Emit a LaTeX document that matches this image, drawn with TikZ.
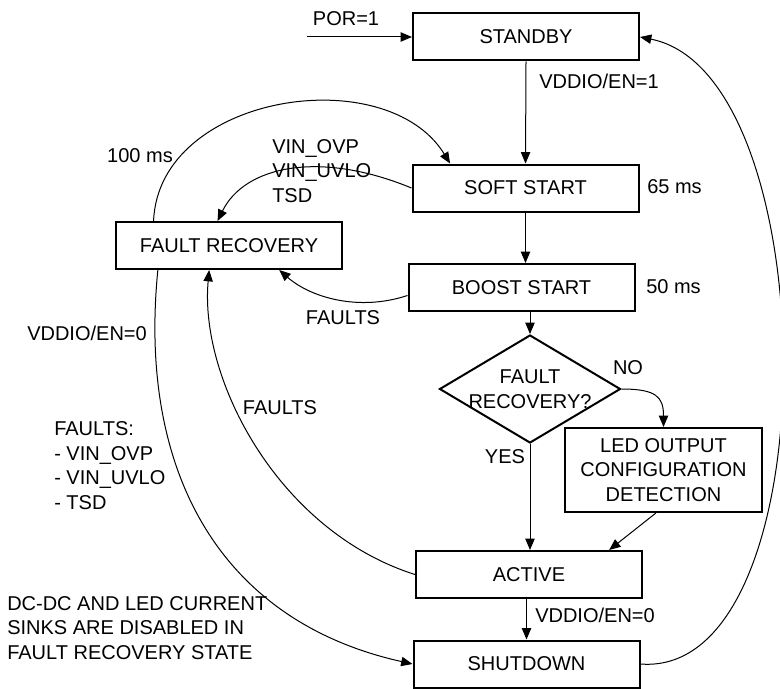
\documentclass[tikz,border=0pt]{standalone}
\usepackage{fontspec}
\setmainfont{Liberation Sans}
\usetikzlibrary{arrows.meta,shapes.geometric}
\begin{document}
\begin{tikzpicture}[x=0.75pt,y=-0.75pt,
  every node/.style={font=\fontsize{15}{18.5}\selectfont},
  state/.style={draw,line width=1.5pt,minimum width=169.5pt,minimum height=35.25pt,inner sep=0pt},
  lbl/.style={inner sep=0pt,align=left},
  arr/.style={line width=0.75pt,-{Triangle[length=8.5pt,width=7pt]}}]
 \useasboundingbox[fill=white] (0,0) rectangle (780,688);
 % states
 \node[state] (standby) at (526,37) {STANDBY};
 \node[state] (soft) at (525.5,188) {SOFT START};
 \node[state] (fr) at (229,245.5) {FAULT RECOVERY};
 \node[state] (boost) at (521.5,287.5) {BOOST START};
 \node[draw,diamond,line width=1.5pt,minimum width=135.75pt,minimum height=81pt,inner sep=0pt,
   label={[lbl,align=center]center:FAULT\\RECOVERY?}] (dia) at (530,389) {};
 \node[state,minimum width=147.75pt,minimum height=63pt,align=center] (led) at (663.5,470)
   {LED OUTPUT\\CONFIGURATION\\DETECTION};
 \node[state] (active) at (529,574.5) {ACTIVE};
 \node[state] (shutdown) at (526.5,664) {SHUTDOWN};
 \coordinate (porin) at (307,37);
 % labels
 \node[lbl] (por) at (346,19) {POR=1};
 \node[lbl,anchor=west] (en1) at (539,81) {VDDIO/EN=1};
 \node[lbl] (t100) at (140,156) {100 ms};
 \node[lbl,anchor=west] (vin) at (272,171) {VIN\_OVP\\VIN\_UVLO\\TSD};
 \node[lbl,anchor=west] (t65) at (647,187) {65 ms};
 \node[lbl,anchor=west] (t50) at (646,287) {50 ms};
 \node[lbl] (fboost) at (343,318) {FAULTS};
 \node[lbl] (no) at (628,368) {NO};
 \node[lbl] (yes) at (505,457) {YES};
 \node[lbl] (factive) at (280,408) {FAULTS};
 \node[lbl,anchor=west] (en0l) at (27,333) {VDDIO/EN=0};
 \node[lbl,anchor=west] (flist) at (54,465.5) {FAULTS:\\- VIN\_OVP\\- VIN\_UVLO\\- TSD};
 \node[lbl,anchor=west] (note) at (7,628) {DC-DC AND LED CURRENT\\SINKS ARE DISABLED IN\\FAULT RECOVERY STATE};
 \node[lbl,anchor=west] (en0) at (535,615) {VDDIO/EN=0};
 % main flow
 \draw[arr] (porin) -- (standby.west);
 \draw[arr] (standby.south) -- (soft.north);
 \draw[arr] (soft.south) -- (soft.south |- boost.north);
 \draw[arr] (boost.south -| dia.north) -- (dia.north);
 \draw[arr] (dia.south) -- (dia.south |- active.north);
 \draw[arr] (dia.east) .. controls +(35,0) and +(0,-30) .. (led.north);
 \draw[arr] (led.260) -- (active.17);
 \draw[arr] (active.south -| shutdown.north) -- (shutdown.north);
 % fault paths
 \draw[arr] (fr.162) .. controls +(5,-127) and +(-64,-104) .. (soft.162); % 100 ms
 \draw[arr] (soft.west) .. controls +(-92,-38) and +(27,-55) .. (fr.115);
 \draw[arr] (boost.184) .. controls +(-48,16) and +(32,28) .. (fr.334);
 \draw[arr] (active.west) .. controls +(-136,-43) and +(-10,110) .. (fr.231);
 \draw[arr] (fr.199) .. controls +(-20,201) and +(-193,-43) .. (shutdown.west);
 \draw[arr] (shutdown.east) .. controls +(190,15) and +(188,37) .. (standby.east);
\end{tikzpicture}
\end{document}
